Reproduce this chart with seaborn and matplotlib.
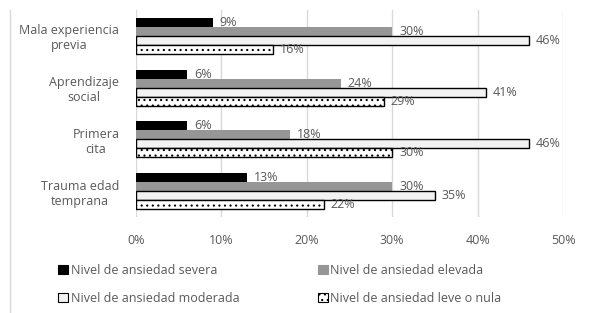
import matplotlib
matplotlib.use("Agg")
import matplotlib.pyplot as plt
import seaborn as sns
import pandas as pd
from matplotlib.patches import Patch
from matplotlib.lines import Line2D

categories = ["Mala experiencia\nprevia", "Aprendizaje\nsocial", "Primera\ncita", "Trauma edad\ntemprana"]
series = ["Nivel de ansiedad severa", "Nivel de ansiedad elevada",
          "Nivel de ansiedad moderada", "Nivel de ansiedad leve o nula"]
severa = [9, 6, 6, 13]
elevada = [30, 24, 18, 30]
moderada = [46, 41, 46, 35]
leve = [16, 29, 30, 22]
xticks = [0, 10, 20, 30, 40, 50]

sns.set_theme(style="white")
plt.rcParams['font.family'] = ['Open Sans', 'DejaVu Sans']
plt.rcParams['hatch.linewidth'] = 0.8
text_color = "#595959"

rows = []
for s, vals in zip(series, [severa, elevada, moderada, leve]):
    for c, v in zip(categories, vals):
        rows.append({"cat": c, "serie": s, "val": v})
df = pd.DataFrame(rows)

face = {series[0]: "#000000", series[1]: "#969696", series[2]: "#f2f2f2", series[3]: "#ffffff"}
edge = {series[0]: "#000000", series[1]: "#969696", series[2]: "#000000", series[3]: "#000000"}
hatch = {series[0]: "", series[1]: "", series[2]: "", series[3]: "..."}

fig = plt.figure(figsize=(5.89, 3.13), dpi=100)
ax = fig.add_axes([136/589, 1-217/313, (563-136)/589, (217-10)/313])

sns.barplot(data=df, y="cat", x="val", hue="serie", order=categories, hue_order=series,
            palette=face, width=0.70, gap=0, ax=ax, legend=False, orient="h", saturation=1)

for cont, s in zip(ax.containers, series):
    for p in cont:
        p.set_facecolor(face[s])
        p.set_edgecolor(edge[s])
        p.set_linewidth(1.0 if s in (series[2], series[3]) else 0)
        p.set_hatch(hatch[s])
    ax.bar_label(cont, labels=[f"{int(v)}%" for v in cont.datavalues], padding=5,
                 fontsize=9, color=text_color)

ax.set_xlim(0, 50)
ax.set_ylim(3.5, -0.5)
ax.set_xticks(xticks)
ax.set_xticklabels([f"{t}%" for t in xticks], fontsize=9, color=text_color)
ax.tick_params(axis="x", length=0, pad=12)
ax.tick_params(axis="y", length=0, pad=12)
for lab in ax.get_yticklabels():
    lab.set_fontsize(9)
    lab.set_color(text_color)
    lab.set_multialignment("center")
ax.set_xlabel("")
ax.set_ylabel("")
for sp in ax.spines.values():
    sp.set_visible(False)
ax.grid(axis="x", color="#d9d9d9", linewidth=1)
ax.set_axisbelow(True)

handles = [Patch(facecolor=face[s], edgecolor=edge[s] if s != series[1] else face[s],
                 hatch=hatch[s], linewidth=0.8) for s in series]
order = [0, 2, 1, 3]
fig.legend([handles[i] for i in order], [series[i] for i in order], ncol=2,
           loc="center", bbox_to_anchor=(0.475, 0.091), frameon=False, fontsize=9,
           labelcolor=text_color, handlelength=0.8, handleheight=0.8, handletextpad=0.2,
           columnspacing=6.3, labelspacing=1.2)

fig.add_artist(Line2D([10/589, 10/589], [0, 1-10/313], color="#d9d9d9", linewidth=1,
                      transform=fig.transFigure))

fig.savefig("out.png", dpi=100, facecolor="white")
